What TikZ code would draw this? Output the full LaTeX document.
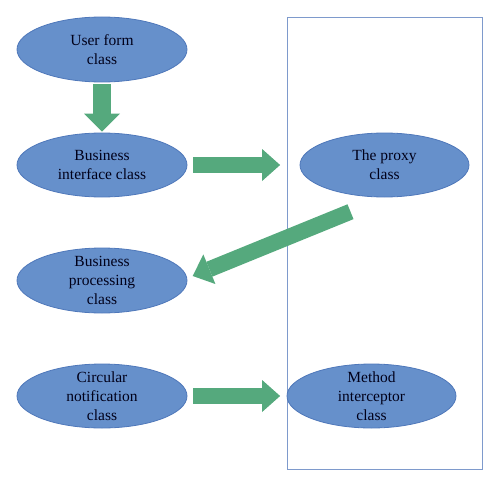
\documentclass[tikz,border=0pt]{standalone}
\usepackage{fontspec}
\setmainfont{Liberation Serif}
\usetikzlibrary{arrows.meta,shapes.geometric}
\definecolor{blobfill}{HTML}{6690CB}
\definecolor{blobedge}{HTML}{4F78BA}
\definecolor{arrowgreen}{HTML}{55A97D}
\definecolor{boxedge}{HTML}{7E9ACC}
\begin{document}
\begin{tikzpicture}[x=1pt,y=-1pt,
  blob/.style={ellipse,draw=blobedge,line width=0.8pt,fill=blobfill,
    minimum width=170pt,minimum height=64pt,inner sep=0pt},
  blobtext/.style={align=center,inner sep=0pt,text=black!90!blue,
    font=\fontsize{15.5}{19}\selectfont},
  fatarrow/.style={draw=arrowgreen,line width=#1,
    -{Triangle[length=18pt,width=2*#1,line width=0pt,fill=arrowgreen]}},
  fatarrow/.default=16pt]
\useasboundingbox (0,0) rectangle (500,487);
\node[draw=boxedge,line width=1.2pt,minimum width=195pt,minimum height=452pt,inner sep=0pt,anchor=north west] (box) at (287,17) {};
\node[blob,minimum height=65pt] (uf) at (102,49.5) {};
\node[blobtext] at (uf.center) {User form\\class};
\node[blob] (bi) at (102,165) {};
\node[blobtext] at (bi.center) {Business\\interface class};
\node[blob,minimum width=169pt] (px) at (384.5,165) {};
\node[blobtext] at (px.center) {The proxy\\class};
\node[blob,minimum height=65pt] (bp) at (102,280.5) {};
\node[blobtext] at (bp.center) {Business\\processing\\class};
\node[blob] (cn) at (102,396) {};
\node[blobtext] at (cn.center) {Circular\\notification\\class};
\node[blob,minimum width=169pt] (mi) at (371.5,396) {};
\node[blobtext] at (mi.center) {Method\\interceptor\\class};
\coordinate (dtail) at (350.5,211.7);
\coordinate (dtip) at (192.7,276);
\draw[fatarrow=18pt,shorten <=2pt,shorten >=1pt] (uf.south) -- (bi.north);
\draw[fatarrow,shorten <=6pt,shorten >=19.5pt] (bi.east) -- (px.west);
\draw[fatarrow] (dtail) -- (dtip);
\draw[fatarrow,shorten <=6pt,shorten >=6.5pt] (cn.east) -- (mi.west);
\end{tikzpicture}
\end{document}
